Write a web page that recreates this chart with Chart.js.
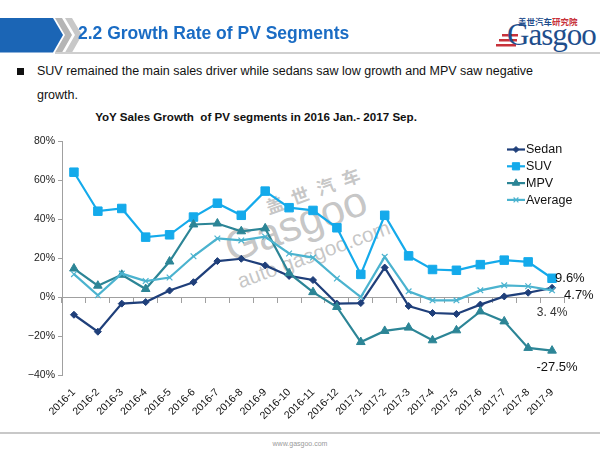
<!DOCTYPE html>
<html>
<head>
<meta charset="utf-8">
<script src="https://cdn.jsdelivr.net/npm/chart.js@4/dist/chart.umd.min.js"></script>
<style>
  html, body { margin:0; padding:0; background:#fff; }
  body { width:600px; height:450px; position:relative; overflow:hidden; font-family:"Liberation Sans", Arial, sans-serif; }
  #chart { position:absolute; left:0; top:0; z-index:2; }
  .abs { position:absolute; }
  #title { left:78px; top:23px; font-size:17.5px; font-weight:bold; color:#1a6cc4; white-space:nowrap; z-index:3; }
  #hline { left:55px; top:52px; width:545px; height:2px; background:#cfcfcf; }
  #bullet { left:17px; top:68px; width:7px; height:7px; background:#111; }
  #b1 { left:37px; top:64px; width:462px; font-size:12.5px; color:#111; text-align:justify; text-align-last:justify; white-space:nowrap; }
  #b2 { left:37px; top:88px; font-size:12.5px; color:#111; }
  #ctitle { left:0; width:512px; top:110px; text-align:center; font-size:11.6px; font-weight:bold; color:#111; }
  #fline { left:0; top:432px; width:600px; height:2px; background:#c8c8c8; }
  #footer { left:0; width:600px; top:440px; text-align:center; font-size:7px; color:#999; }
  .wm { transform:rotate(-20deg); transform-origin:0 50%; color:rgba(150,150,150,0.55); z-index:1; white-space:nowrap; }
  #wm1 { left:266px; top:196px; font-family:"Noto Sans CJK SC"; font-weight:bold; font-size:18px; line-height:22px; letter-spacing:9px; }
  #wm2 { left:226px; top:226px; font-family:"Liberation Sans"; font-size:43px; line-height:46px; letter-spacing:-0.5px; }
  #wm3 { left:238px; top:271px; font-family:"Liberation Sans"; font-size:21px; line-height:22px; }
  #logo { left:488px; top:14px; width:110px; height:40px; }
</style>
</head>
<body>
<svg class="abs" style="left:0;top:0" width="90" height="56">
  <polygon points="0,18 53,18 63,35 53,52.5 0,52.5" fill="#1b65b5"/>
  <polygon points="55,18 62,18 72,35 62,52.5 55,52.5 65,35" fill="#b5b5b5"/>
  <polygon points="65,18 72,18 82,35 72,52.5 65,52.5 75,35" fill="#c8c8c8"/>
</svg>
<div id="title" class="abs">2.2 Growth Rate of PV Segments</div>
<div id="hline" class="abs"></div>
<div id="logo" class="abs">
  <div class="abs" style="left:30px;top:3px;font-family:'Noto Sans CJK SC';font-size:8.5px;font-weight:bold;line-height:9px;color:#1f4e8c;white-space:nowrap">盖世汽车<span style="color:#c8323a">研究院</span></div>
  <svg class="abs" style="left:8px;top:18px" width="24" height="20">
    <rect x="6" y="2" width="16" height="2.5" fill="#c8323a"/>
    <rect x="3" y="7" width="18" height="2.5" fill="#c8323a"/>
    <rect x="0" y="12" width="20" height="2.5" fill="#c8323a"/>
  </svg>
  <div class="abs" style="left:19px;top:5px;font-family:'Liberation Serif';font-size:31px;line-height:32px;color:#1f4e8c;white-space:nowrap;letter-spacing:-1px">Gasgoo</div>
</div>
<div id="bullet" class="abs"></div>
<div id="b1" class="abs">SUV remained the main sales driver while sedans saw low growth and MPV saw negative</div>
<div id="b2" class="abs">growth.</div>
<div id="ctitle" class="abs">YoY Sales Growth&nbsp; of PV segments in 2016 Jan.- 2017 Sep.</div>
<div id="wm1" class="abs wm">盖世汽车</div>
<div id="wm2" class="abs wm">Gasgoo</div>
<div id="wm3" class="abs wm">auto.gasgoo.com</div>
<div id="fline" class="abs"></div>
<div id="footer" class="abs">www.gasgoo.com</div>
<canvas id="chart" width="600" height="450"></canvas>
<script>
const categories = ['2016-1','2016-2','2016-3','2016-4','2016-5','2016-6','2016-7','2016-8','2016-9','2016-10','2016-11','2016-12',
                    '2017-1','2017-2','2017-3','2017-4','2017-5','2017-6','2017-7','2017-8','2017-9'];
const sedan   = [-9.1,-17.8,-3.4,-2.6,3.3,7.6,18.4,19.6,16.2,10.8,8.7,-3.4,-3.1,15.1,-4.6,-8.2,-8.7,-3.9,0.3,2.2,4.7];
const suv     = [64.0,44.0,45.4,30.7,31.9,41.0,48.1,41.9,54.3,45.8,44.4,35.5,11.6,41.9,21.1,14.1,13.7,16.6,18.9,18.0,9.6];
const mpv     = [14.6,5.8,11.4,4.1,18.2,37.2,37.7,33.7,35.2,12.2,2.5,-5.1,-23.1,-17.4,-15.7,-22.2,-17.1,-7.4,-12.5,-26.1,-27.5];
const average = [11.7,0.9,12.0,8.2,10.0,20.9,30.0,29.0,30.9,22.3,20.2,9.5,0.0,20.6,2.9,-1.7,-1.7,3.4,6.0,5.5,3.4];
const seriesNames = ['Sedan','SUV','MPV','Average'];
const endLabels = ['4.7%','9.6%','-27.5%','3. 4%'];
const yTicks = [-40,-20,0,20,40,60,80];

const colors = ['#1f3f7a','#14aaeb','#2c8596','#4bb3cf'];
const styles = ['rectRot','rect','triangle','crossRot'];
const radii = [3.5,6,5,4];
const values = [sedan, suv, mpv, average];

const datasets = values.map((v,i)=>({
  label: seriesNames[i], data: v,
  borderColor: colors[i], backgroundColor: colors[i],
  pointBackgroundColor: colors[i], pointBorderColor: colors[i],
  pointStyle: styles[i], pointRadius: radii[i], pointBorderWidth: i===3?1.2:1,
  borderWidth: 2.2, tension: 0, order: 4-i
}));

const legendPlugin = {
  id: 'customLegend',
  afterDraw(chart){
    const ctx = chart.ctx;
    ctx.save();
    datasets.forEach((d,i)=>{
      const y = 149.5 + i*16.8;
      ctx.strokeStyle = d.borderColor; ctx.fillStyle = d.borderColor; ctx.lineWidth = 2.2;
      ctx.beginPath(); ctx.moveTo(507,y); ctx.lineTo(525,y); ctx.stroke();
      ctx.lineWidth = d.pointBorderWidth;
      Chart.helpers.drawPoint(ctx, {pointStyle: d.pointStyle, radius: d.pointRadius*0.85, borderWidth: d.pointBorderWidth, rotation:0}, 516, y);
      ctx.fillStyle = '#111'; ctx.font = '12.5px "Liberation Sans", Arial'; ctx.textBaseline = 'middle'; ctx.textAlign='left';
      ctx.fillText(d.label, 526, y+0.5);
    });
    ctx.restore();
  }
};

const endLabelPlugin = {
  id: 'endLabels',
  afterDatasetsDraw(chart){
    const ctx = chart.ctx;
    const xs = chart.scales.x, ys = chart.scales.y;
    const last = categories.length-1;
    const x = xs.getPixelForValue(last);
    const conf = [
      {dx:12, dy:8, align:'left', size:13, color:'#111'},
      {dx:3, dy:0, align:'left', size:13, color:'#111'},
      {dx:5, dy:17, align:'center', size:13, color:'#111'},
      {dx:0, dy:22, align:'center', size:12, color:'#333'}
    ];
    ctx.save();
    ctx.textBaseline = 'middle';
    values.forEach((v,i)=>{
      const c = conf[i];
      const y = ys.getPixelForValue(v[last]);
      ctx.font = c.size + 'px "Liberation Sans", Arial';
      ctx.fillStyle = c.color; ctx.textAlign = c.align;
      ctx.fillText(endLabels[i], x + c.dx, y + c.dy);
    });
    ctx.restore();
  }
};

new Chart(document.getElementById('chart'), {
  type: 'line',
  data: { labels: categories, datasets },
  plugins: [legendPlugin, endLabelPlugin],
  options: {
    responsive: false, animation: false,
    layout: { padding: { left: 0, right: 36, top: 141, bottom: 20 } },
    plugins: { legend: { display: false }, tooltip: { enabled: false } },
    scales: {
      x: {
        type: 'category', position: 'bottom', offset: true,
        grid: { display: false }, border: { display: false },
        ticks: { autoSkip: false, minRotation: 45, maxRotation: 45, padding: 3,
                 font: { size: 10.5, family: '"Liberation Sans", Arial' }, color: '#111' },
        afterFit(s){ s.height = 55; }
      },
      x0: {
        axis: 'x', type: 'category', position: { y: 0 }, offset: true,
        grid: { offset: true, drawOnChartArea: false, drawTicks: true, tickLength: 5, color: '#a0a0a0', lineWidth: 1 },
        border: { display: true, color: '#a0a0a0', width: 1 },
        ticks: { display: false }
      },
      y: {
        min: -40, max: 80,
        afterBuildTicks(s){ s.ticks = yTicks.map(v=>({value:v})); },
        grid: { drawOnChartArea: false, drawTicks: true, tickLength: 4, color: '#a0a0a0' },
        border: { display: true, color: '#a0a0a0' },
        ticks: { padding: 3, font: { size: 10.5, family: '"Liberation Sans", Arial' }, color: '#222',
                 callback: v => (v < 0 ? '\u2212' + (-v) : v) + '%' },
        afterFit(s){ s.width = 62; }
      }
    }
  }
});
</script>
</body>
</html>
